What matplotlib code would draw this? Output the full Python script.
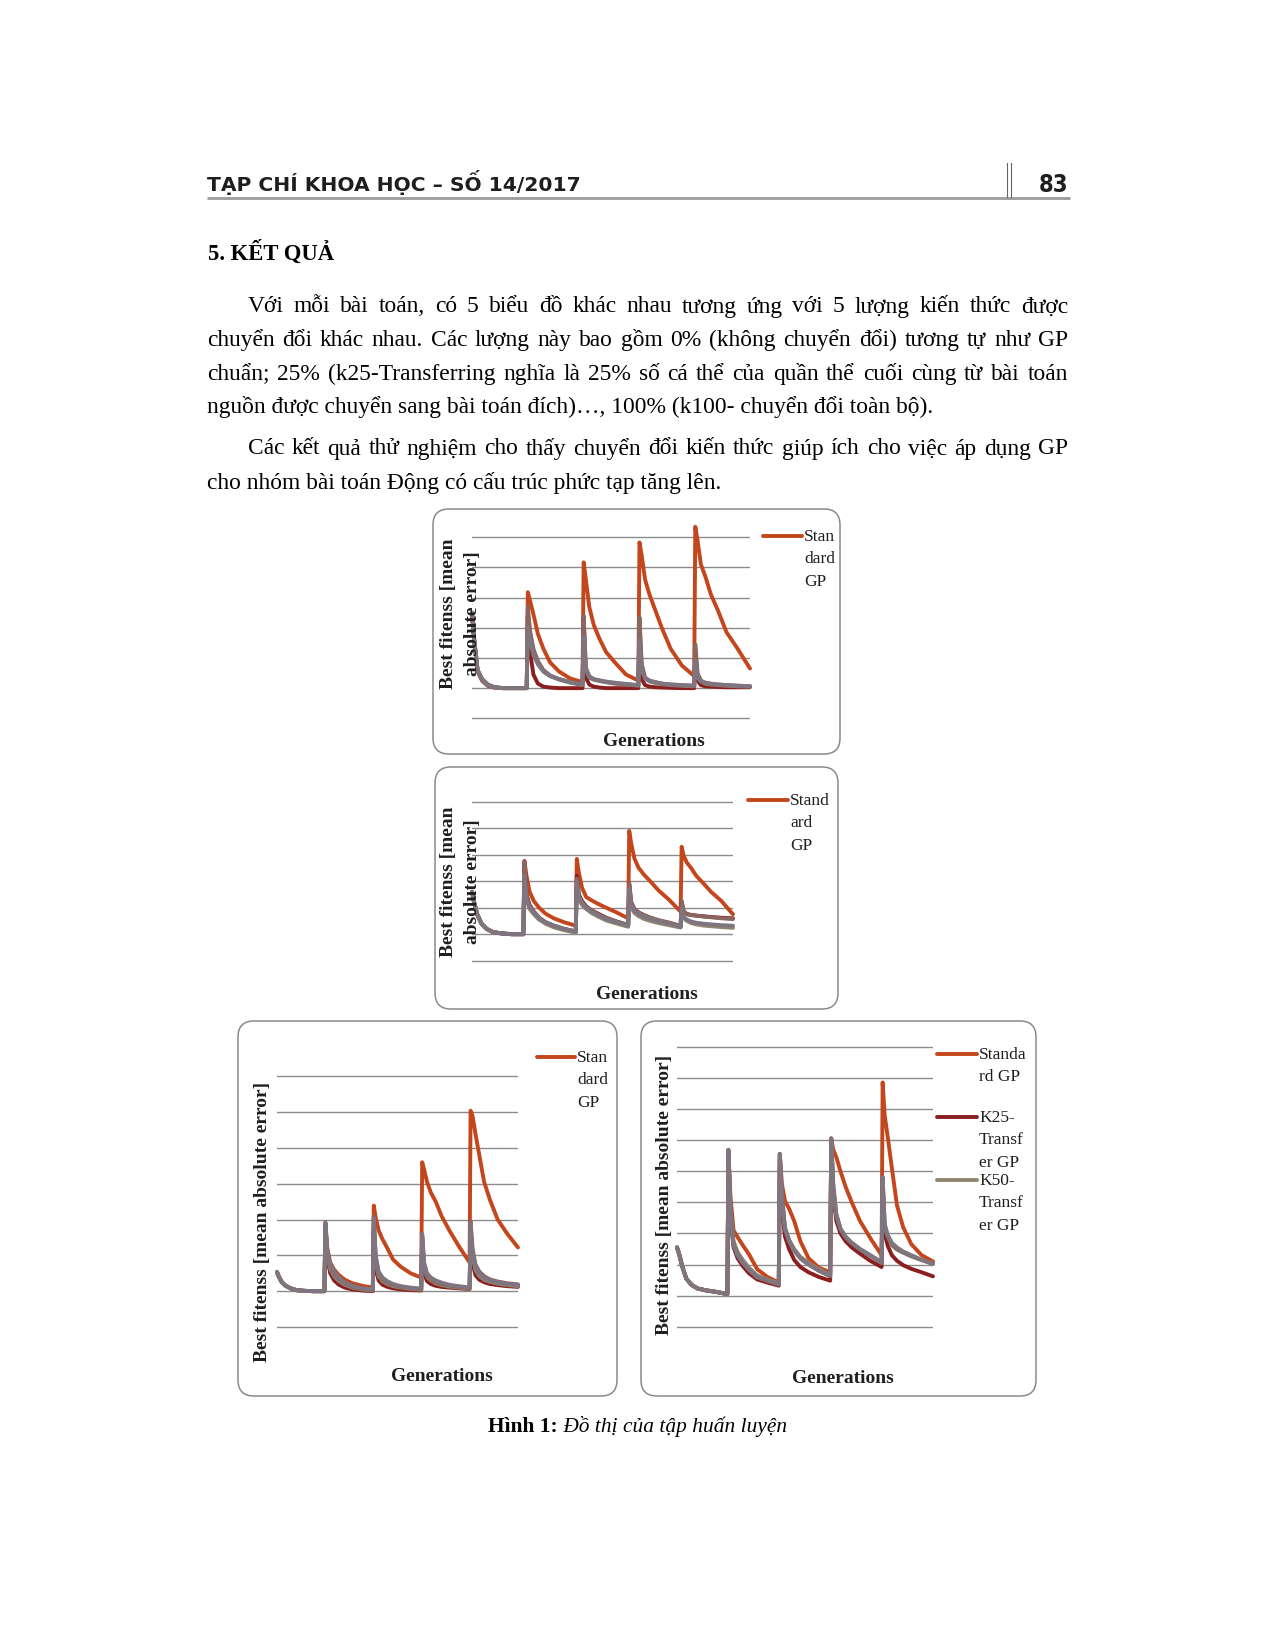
import matplotlib
matplotlib.use("Agg")
import matplotlib.pyplot as plt
from matplotlib.patches import FancyBboxPatch

W, H = 1274, 1649
SERIF = "Liberation Serif"
INK = "#1e1e1e"

# generations sampled inside each 50-generation block (spike at the block start)
OFFSETS = [0, 2, 5, 9, 14, 20, 28, 38, 49]
GENERATIONS = [50 * k + o for k in range(5) for o in OFFSETS]

SERIES_NAMES = ["Standard GP", "K25-Transfer GP", "K50-Transfer GP",
                "K75-Transfer GP", "K100-Transfer GP"]
SERIES_COLORS = ["#c4461c", "#8b1e1e", "#8f8670", "#8a6660", "#7f7580"]

# ---- panel 1 (values in gridline units, bottom gridline = 0)
p1_standard = [3.5, 2.6, 1.6, 1.3, 1.12, 1.03, 1.0, 1.0, 1.0,
               4.18, 3.9, 3.45, 2.8, 2.3, 1.85, 1.55, 1.32, 1.2,
               5.17, 4.6, 3.7, 3.1, 2.65, 2.2, 1.85, 1.45, 1.25,
               5.83, 5.4, 4.6, 4.1, 3.6, 3.0, 2.3, 1.75, 1.4,
               6.35, 5.9, 5.1, 4.7, 4.1, 3.6, 2.85, 2.3, 1.65]
p1_k25 = [3.45, 2.55, 1.55, 1.25, 1.08, 1.02, 1.0, 1.0, 1.0,
          3.4, 2.2, 1.45, 1.15, 1.05, 1.02, 1.0, 1.0, 1.0,
          3.3, 1.35, 1.12, 1.05, 1.02, 1.0, 1.0, 1.0, 1.0,
          3.0, 1.3, 1.1, 1.05, 1.03, 1.02, 1.01, 1.0, 1.0,
          2.2, 1.25, 1.1, 1.06, 1.05, 1.04, 1.03, 1.03, 1.03]
p1_k50 = [3.48, 2.58, 1.58, 1.28, 1.1, 1.02, 1.0, 1.0, 1.0,
          3.5, 2.8, 2.2, 1.8, 1.55, 1.4, 1.28, 1.18, 1.1,
          3.2, 1.7, 1.4, 1.3, 1.25, 1.2, 1.15, 1.12, 1.08,
          3.2, 1.7, 1.32, 1.22, 1.17, 1.13, 1.1, 1.08, 1.06,
          2.3, 1.4, 1.22, 1.15, 1.12, 1.1, 1.08, 1.06, 1.05]
p1_k75 = [3.5, 2.6, 1.6, 1.3, 1.12, 1.03, 1.0, 1.0, 1.0,
          3.7, 2.9, 2.3, 1.9, 1.6, 1.42, 1.3, 1.2, 1.12,
          3.4, 1.6, 1.35, 1.28, 1.24, 1.2, 1.16, 1.12, 1.1,
          3.35, 1.8, 1.35, 1.25, 1.2, 1.15, 1.12, 1.1, 1.08,
          2.45, 1.5, 1.25, 1.18, 1.15, 1.12, 1.1, 1.08, 1.06]
p1_k100 = [3.5, 2.6, 1.6, 1.3, 1.12, 1.03, 1.0, 1.0, 1.0,
           3.0, 2.6, 2.1, 1.8, 1.55, 1.4, 1.3, 1.2, 1.12,
           2.7, 1.6, 1.38, 1.3, 1.26, 1.22, 1.18, 1.14, 1.1,
           2.6, 1.6, 1.32, 1.24, 1.2, 1.15, 1.12, 1.1, 1.08,
           1.9, 1.35, 1.22, 1.16, 1.14, 1.12, 1.1, 1.08, 1.07]

# ---- panel 2
p2_standard = [2.6, 2.2, 1.75, 1.4, 1.2, 1.08, 1.03, 1.0, 1.0,
               3.77, 3.2, 2.6, 2.25, 2.0, 1.78, 1.6, 1.45, 1.32,
               3.84, 3.3, 2.75, 2.4, 2.28, 2.15, 2.0, 1.82, 1.6,
               4.9, 4.4, 3.85, 3.5, 3.25, 3.0, 2.65, 2.3, 1.85,
               4.3, 3.95, 3.7, 3.5, 3.2, 2.95, 2.6, 2.25, 1.75]
p2_k25 = [2.6, 2.2, 1.75, 1.4, 1.2, 1.08, 1.03, 1.0, 1.0,
          3.7, 2.5, 2.1, 1.85, 1.62, 1.45, 1.32, 1.2, 1.1,
          3.2, 2.5, 2.25, 2.05, 1.9, 1.78, 1.62, 1.48, 1.35,
          2.9, 2.2, 1.95, 1.82, 1.72, 1.62, 1.52, 1.42, 1.3,
          2.2, 1.85, 1.76, 1.73, 1.7, 1.68, 1.65, 1.62, 1.6]
p2_k50 = [2.6, 2.2, 1.75, 1.4, 1.2, 1.08, 1.03, 1.0, 1.0,
          3.3, 2.3, 1.95, 1.75, 1.55, 1.4, 1.26, 1.15, 1.06,
          2.9, 2.3, 2.1, 1.95, 1.8, 1.67, 1.52, 1.4, 1.28,
          2.6, 2.0, 1.8, 1.68, 1.58, 1.5, 1.42, 1.34, 1.25,
          1.9, 1.6, 1.5, 1.42, 1.37, 1.33, 1.3, 1.27, 1.24]
p2_k75 = [2.6, 2.2, 1.75, 1.4, 1.2, 1.08, 1.03, 1.0, 1.0,
          3.75, 2.45, 2.05, 1.85, 1.62, 1.46, 1.32, 1.2, 1.1,
          3.1, 2.45, 2.2, 2.02, 1.88, 1.75, 1.6, 1.47, 1.35,
          2.9, 2.15, 1.95, 1.82, 1.72, 1.63, 1.53, 1.44, 1.32,
          2.26, 1.85, 1.75, 1.72, 1.7, 1.67, 1.64, 1.6, 1.57]
p2_k100 = [2.6, 2.2, 1.75, 1.4, 1.2, 1.08, 1.03, 1.0, 1.0,
           3.2, 2.3, 2.0, 1.8, 1.6, 1.45, 1.32, 1.2, 1.1,
           3.0, 2.4, 2.15, 2.0, 1.85, 1.73, 1.58, 1.45, 1.33,
           2.7, 2.05, 1.88, 1.76, 1.66, 1.58, 1.5, 1.4, 1.28,
           2.0, 1.65, 1.55, 1.48, 1.43, 1.4, 1.37, 1.34, 1.32]

# ---- panel 3
p3_standard = [1.53, 1.4, 1.25, 1.15, 1.08, 1.03, 1.01, 1.0, 1.0,
               2.92, 2.2, 1.8, 1.6, 1.45, 1.32, 1.22, 1.15, 1.1,
               3.39, 3.05, 2.7, 2.45, 2.2, 1.88, 1.68, 1.5, 1.38,
               4.6, 4.4, 4.05, 3.75, 3.5, 3.1, 2.7, 2.25, 1.8,
               6.04, 5.9, 5.4, 4.8, 4.05, 3.55, 3.0, 2.6, 2.22]
p3_k25 = [1.53, 1.4, 1.25, 1.15, 1.08, 1.03, 1.01, 1.0, 1.0,
          2.8, 1.9, 1.5, 1.3, 1.18, 1.1, 1.05, 1.02, 1.0,
          2.7, 1.6, 1.3, 1.18, 1.12, 1.08, 1.05, 1.03, 1.02,
          2.3, 1.5, 1.28, 1.2, 1.15, 1.12, 1.1, 1.08, 1.06,
          2.5, 1.8, 1.45, 1.32, 1.25, 1.2, 1.17, 1.14, 1.12]
p3_k50 = [1.53, 1.4, 1.25, 1.15, 1.08, 1.03, 1.01, 1.0, 1.0,
          2.85, 2.0, 1.62, 1.42, 1.28, 1.18, 1.1, 1.05, 1.02,
          2.9, 1.8, 1.42, 1.28, 1.2, 1.14, 1.1, 1.06, 1.04,
          2.5, 1.65, 1.4, 1.3, 1.22, 1.17, 1.13, 1.1, 1.07,
          2.7, 2.0, 1.6, 1.42, 1.32, 1.26, 1.21, 1.17, 1.14]
p3_k75 = [1.53, 1.4, 1.25, 1.15, 1.08, 1.03, 1.01, 1.0, 1.0,
          2.9, 2.05, 1.7, 1.5, 1.34, 1.22, 1.13, 1.07, 1.04,
          3.1, 1.9, 1.5, 1.33, 1.24, 1.17, 1.12, 1.08, 1.06,
          2.55, 1.75, 1.45, 1.34, 1.26, 1.2, 1.16, 1.12, 1.09,
          2.95, 2.2, 1.75, 1.55, 1.42, 1.33, 1.27, 1.22, 1.19]
p3_k100 = [1.53, 1.4, 1.25, 1.15, 1.08, 1.03, 1.01, 1.0, 1.0,
           2.9, 2.1, 1.75, 1.55, 1.38, 1.25, 1.15, 1.08, 1.05,
           3.02, 2.0, 1.55, 1.38, 1.28, 1.2, 1.14, 1.1, 1.07,
           2.6, 1.8, 1.5, 1.38, 1.3, 1.24, 1.18, 1.14, 1.1,
           2.9, 2.1, 1.7, 1.5, 1.38, 1.3, 1.25, 1.2, 1.17]

# ---- panel 4
p4_standard = [2.55, 2.35, 1.95, 1.55, 1.35, 1.23, 1.17, 1.12, 1.05,
               5.69, 4.2, 3.1, 2.88, 2.62, 2.33, 1.85, 1.6, 1.42,
               5.56, 4.6, 4.05, 3.8, 3.4, 2.75, 2.2, 1.9, 1.75,
               6.06, 5.7, 5.45, 5.0, 4.5, 4.0, 3.4, 2.85, 2.3,
               7.86, 6.8, 6.1, 5.1, 3.9, 3.2, 2.65, 2.3, 2.1]
p4_k25 = [2.55, 2.35, 1.95, 1.55, 1.35, 1.23, 1.17, 1.12, 1.05,
          5.5, 3.5, 2.55, 2.2, 1.95, 1.72, 1.52, 1.42, 1.32,
          5.4, 3.8, 2.9, 2.5, 2.15, 1.92, 1.75, 1.6, 1.48,
          5.9, 4.2, 3.4, 3.0, 2.75, 2.55, 2.35, 2.12, 1.92,
          4.6, 3.0, 2.6, 2.3, 2.12, 1.98, 1.86, 1.75, 1.62]
p4_k50 = [2.55, 2.35, 1.95, 1.55, 1.35, 1.23, 1.17, 1.12, 1.05,
          5.6, 3.7, 2.75, 2.4, 2.15, 1.9, 1.65, 1.52, 1.4,
          5.5, 4.2, 3.2, 2.8, 2.5, 2.25, 2.05, 1.85, 1.66,
          6.0, 4.6, 3.6, 3.15, 2.88, 2.7, 2.5, 2.3, 2.08,
          4.7, 3.2, 2.9, 2.62, 2.48, 2.38, 2.26, 2.14, 2.04]
p4_k75 = [2.55, 2.35, 1.95, 1.55, 1.35, 1.23, 1.17, 1.12, 1.05,
          5.69, 3.7, 2.6, 2.3, 2.05, 1.82, 1.58, 1.47, 1.35,
          5.56, 4.3, 3.15, 2.75, 2.45, 2.2, 2.0, 1.8, 1.62,
          6.06, 4.5, 3.6, 3.15, 2.88, 2.68, 2.48, 2.28, 2.05,
          4.81, 3.25, 2.9, 2.65, 2.5, 2.4, 2.28, 2.15, 2.02]
p4_k100 = [2.55, 2.35, 1.95, 1.55, 1.35, 1.23, 1.17, 1.12, 1.05,
           5.69, 3.8, 2.65, 2.3, 2.05, 1.85, 1.6, 1.5, 1.37,
           5.56, 4.0, 3.15, 2.75, 2.45, 2.2, 2.0, 1.8, 1.64,
           6.06, 4.4, 3.6, 3.15, 2.9, 2.7, 2.5, 2.3, 2.05,
           4.81, 3.3, 2.95, 2.7, 2.55, 2.42, 2.3, 2.15, 2.02]

PARA_LINES = [
    "Với mỗi bài toán, có 5 biểu đồ khác nhau tương ứng với 5 lượng kiến thức được",
    "chuyển đổi khác nhau. Các lượng này bao gồm 0% (không chuyển đổi) tương tự như GP",
    "chuẩn; 25% (k25-Transferring nghĩa là 25% số cá thể của quần thể cuối cùng từ bài toán",
    "nguồn được chuyển sang bài toán đích)…, 100% (k100- chuyển đổi toàn bộ).",
    "Các kết quả thử nghiệm cho thấy chuyển đổi kiến thức giúp ích cho việc áp dụng GP",
    "cho nhóm bài toán Động có cấu trúc phức tạp tăng lên.",
]
# (indent x, baseline y, justified?)
PARA_POS = [(248, 312.5, True), (207, 346.3, True), (207, 380, True),
            (207, 413.5, False), (248, 454.5, True), (207, 489.3, False)]
TEXT_RIGHT = 1068

fig = plt.figure(figsize=(W / 100, H / 100), dpi=100)
page = fig.add_axes([0, 0, 1, 1])
page.set_xlim(0, W)
page.set_ylim(H, 0)
page.axis("off")
renderer = fig.canvas.get_renderer()


def width_of(t):
    return t.get_window_extent(renderer).width


def fit_size(s, target, **kw):
    t = page.text(0, 0, s, fontsize=10, **kw)
    w = width_of(t)
    t.remove()
    return 10 * target / w


# header
hs = fit_size("TẠP CHÍ KHOA HỌC – SỐ 14/2017", 375, family="DejaVu Sans", weight="bold")
page.text(207, 191, "TẠP CHÍ KHOA HỌC – SỐ 14/2017", fontsize=hs, family="DejaVu Sans",
          weight="bold", color=INK, va="baseline")
page.plot([207, 1070], [198.5, 198.5], color="#9a9a9a", lw=2.0, solid_capstyle="butt")
page.plot([1007, 1007], [164, 198], color="#666666", lw=0.8)
page.plot([1011, 1011], [164, 198], color="#666666", lw=0.8)
page.text(1053, 192, "83", fontsize=17, family="DejaVu Sans", weight="bold",
          stretch="condensed", color=INK, ha="center", va="baseline")

page.text(208, 260, "5. KẾT QUẢ", fontsize=16.3, family=SERIF, weight="bold",
          color="black", va="baseline")

# body text, justified like the page
body_size = fit_size(PARA_LINES[3], 726, family=SERIF)
for line, (x0, y, just) in zip(PARA_LINES, PARA_POS):
    if not just:
        page.text(x0, y, line, fontsize=body_size, family=SERIF, color="black", va="baseline")
        continue
    words = line.split(" ")
    objs = [page.text(0, y, w, fontsize=body_size, family=SERIF, color="black",
                      va="baseline") for w in words]
    widths = [width_of(o) for o in objs]
    gap = (TEXT_RIGHT - x0 - sum(widths)) / (len(words) - 1)
    x = x0
    for o, w in zip(objs, widths):
        o.set_x(x)
        x += w + gap

# caption
cap_b = "Hình 1:"
cap_i = " Đồ thị của tập huấn luyện"
t1 = page.text(488, 1432, cap_b, fontsize=15.4, family=SERIF, weight="bold", va="baseline")
w1 = width_of(t1)
page.text(488 + w1, 1432, cap_i, fontsize=15.4, family=SERIF, style="italic", va="baseline")

PANELS = [
    dict(box=(433, 510, 840, 755), area=(472, 750, 719.3, 538.3), n=7,
         data=[p1_standard, p1_k25, p1_k50, p1_k75, p1_k100],
         ylabel=[(448, "Best fitenss [mean"), (472, "absolute error]")], ly=614,
         gen=(654, 742),
         legend=[(537, ["Stan", "dard", "GP"], 0)], leg_x=(763, 802)),
    dict(box=(435, 768, 838, 1010), area=(472, 733, 961.7, 802.7), n=7,
         data=[p2_standard, p2_k25, p2_k50, p2_k75, p2_k100],
         ylabel=[(448, "Best fitenss [mean"), (473, "absolute error]")], ly=882,
         gen=(647, 995),
         legend=[(801, ["Stand", "ard", "GP"], 0)], leg_x=(748, 788)),
    dict(box=(238, 1022, 617, 1397), area=(277, 518, 1328, 1077.3), n=8,
         data=[p3_standard, p3_k25, p3_k50, p3_k75, p3_k100],
         ylabel=[(262, "Best fitenss [mean absolute error]")], ly=1222,
         gen=(442, 1377),
         legend=[(1058, ["Stan", "dard", "GP"], 0)], leg_x=(537, 575)),
    dict(box=(641, 1022, 1036, 1397), area=(677, 933, 1327.7, 1048), n=10,
         data=[p4_standard, p4_k25, p4_k50, p4_k75, p4_k100],
         ylabel=[(664, "Best fitenss [mean absolute error]")], ly=1195,
         gen=(843, 1379),
         legend=[(1055, ["Standa", "rd GP"], 0), (1118, ["K25-", "Transf", "er GP"], 1),
                 (1181, ["K50-", "Transf", "er GP"], 2)], leg_x=(937, 977)),
]

for p in PANELS:
    bx0, by0, bx1, by1 = p["box"]
    page.add_patch(FancyBboxPatch((bx0, by0), bx1 - bx0, by1 - by0,
                                  boxstyle="round,pad=0,rounding_size=16",
                                  fc="white", ec="#8a8a8a", lw=1.1))
    x0, x1, g0, gtop = p["area"]
    n = p["n"]
    ppu = (g0 - gtop) / (n - 1)
    lo, hi = -0.3, n - 1 + 0.6
    bottom_px = g0 - lo * ppu
    top_px = gtop - (hi - (n - 1)) * ppu
    ax = fig.add_axes([x0 / W, 1 - bottom_px / H, (x1 - x0) / W, (bottom_px - top_px) / H])
    ax.set_xlim(0, 249)
    ax.set_ylim(lo, hi)
    ax.axis("off")
    for i in range(n):
        ax.axhline(i, color="#8c8c8c", lw=1.0, zorder=0)
    for vals, color in zip(p["data"], SERIES_COLORS):
        ax.plot(GENERATIONS, vals, color=color, lw=2.8, solid_joinstyle="round",
                solid_capstyle="round", clip_on=False)

    for lx, s in p["ylabel"]:
        fig.text(lx, p["ly"], s, transform=page.transData, rotation=90, ha="center",
                 va="center", fontsize=14, family=SERIF, weight="bold", color=INK, zorder=5)
    page.text(p["gen"][0], p["gen"][1], "Generations", ha="center", va="center",
              fontsize=14, family=SERIF, weight="bold", color=INK)
    lx0, lx1 = p["leg_x"]
    for y, parts, si in p["legend"]:
        page.plot([lx0, lx1], [y, y], color=SERIES_COLORS[si], lw=2.8, solid_capstyle="round")
        for j, s in enumerate(parts):
            page.text(lx1 + 2, y + 22.5 * j, s, va="center", ha="left", fontsize=12.5,
                      family=SERIF, color=INK)

fig.savefig("out.png", dpi=100)
